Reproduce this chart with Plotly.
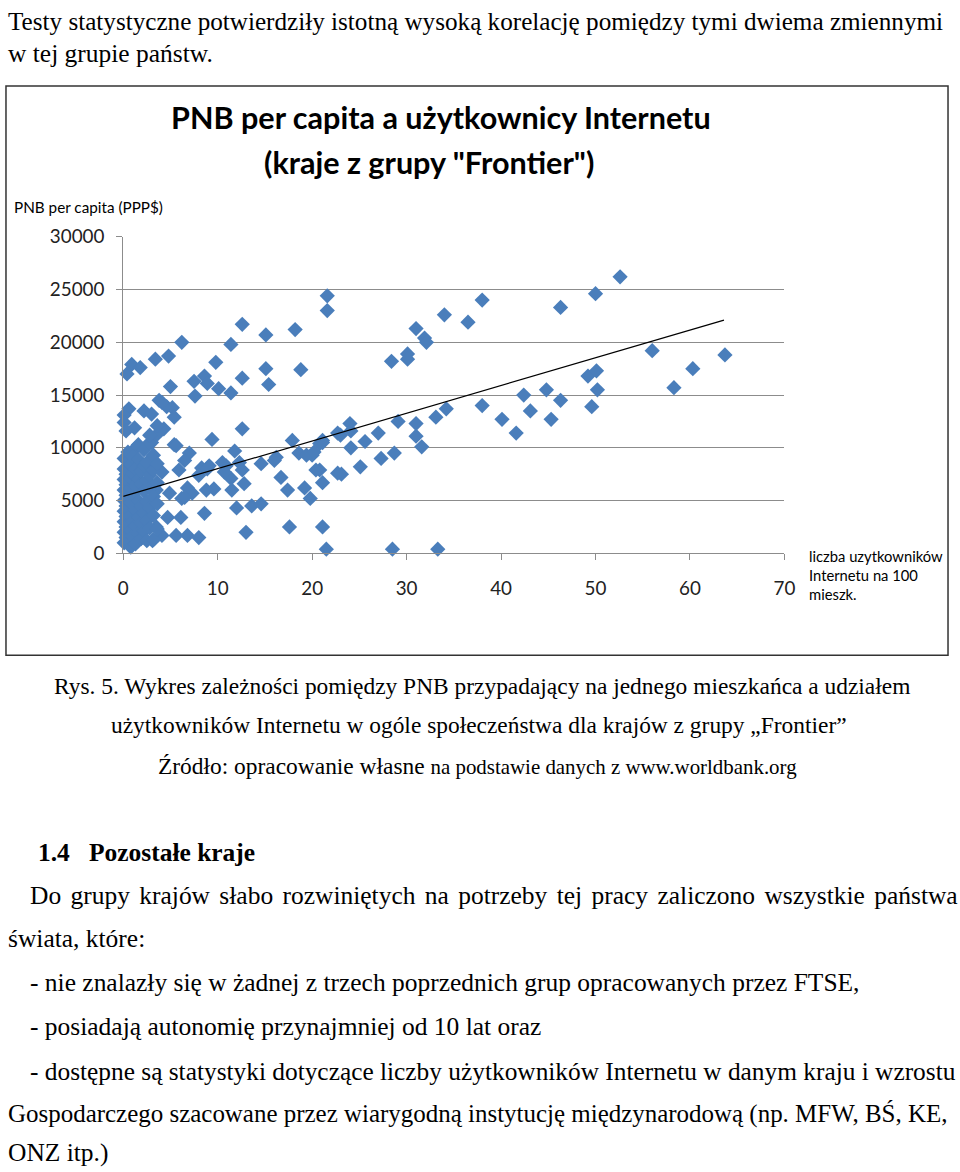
import plotly.graph_objects as go

# ---- data ----
internet_users = [
    52.6, 50.0, 46.3, 38.0, 36.5, 34.0, 31.0, 31.9, 32.1, 28.4, 30.1, 30.1, 21.6, 21.6,
    56.0, 60.3, 63.7, 58.3, 44.8, 46.3, 49.2, 50.1, 50.2, 49.6, 45.3,
    42.4, 38.0, 40.1, 41.6, 43.1, 34.2, 33.1, 31.0, 31.0, 31.6, 29.1, 28.7, 27.3, 27.0,
    25.6, 25.1, 24.0, 24.1, 24.1, 23.0, 23.1, 21.1, 20.8, 21.1, 21.1, 21.5, 28.5, 33.3,
    22.7, 22.7,
    12.6, 15.1, 18.2, 6.2, 11.4, 0.4, 0.9, 1.8, 3.4, 4.8, 9.8, 15.1, 15.4, 18.8, 12.6,
    5.0, 7.5, 8.6, 8.9, 10.1, 11.4, 7.6, 3.8,
    4.6, 5.2, 0.6, 2.2, 3.0, 0.1, 0.1, 5.4, 1.2, 0.3, 4.3, 3.5, 9.4, 3.0, 5.4, 1.2,
    4.1, 12.6, 11.8, 12.8, 11.5, 10.5, 10.9, 12.3, 12.6, 11.4, 12.0, 13.6, 14.6, 13.0,
    14.6, 16.0, 16.7, 17.4, 17.9, 18.6, 19.2, 19.8, 20.4, 17.6, 20.0, 20.8, 16.2,
    5.6, 7.0, 8.3, 9.1, 10.7, 5.9, 4.1, 9.6, 8.8, 7.3, 6.2, 4.9, 3.5, 4.7, 6.1, 8.6,
    5.6, 6.8, 8.0, 4.1, 3.1, 1.9, 3.5, 6.5, 6.8, 6.5, 8.9, 8.0,
    19.4, 20.2, 21.1,
    0.1, 0.1, 0.1, 0.1, 0.1, 0.1, 0.1, 0.1, 0.1,
    0.3, 0.3, 0.3, 0.3, 0.3, 0.3, 0.3,
    0.5, 0.5, 0.5, 0.5, 0.5, 0.5, 0.5, 0.5,
    0.8, 0.8, 0.8, 0.8, 0.8, 0.8, 0.8,
    1.0, 1.0, 1.0, 1.0, 1.0,
    1.3, 1.3, 1.3, 1.3, 1.3,
    1.6, 1.6, 1.6, 1.6, 1.6, 1.6,
    1.9, 1.9, 1.9, 1.9, 1.9,
    2.2, 2.2, 2.2, 2.2, 2.2,
    2.5, 2.5, 2.5, 2.5, 2.5,
    2.8, 2.8, 2.8, 2.8, 2.8, 2.8,
    3.2, 3.2, 3.2, 3.2, 3.2,
    3.6, 3.6, 3.6, 3.6, 3.6,
]
gnp_per_capita = [
    26200, 24600, 23300, 24000, 21900, 22600, 21300, 20400, 20000, 18200, 18900, 18400, 24400, 23000,
    19200, 17500, 18800, 15700, 15500, 14500, 16800, 17300, 15500, 13900, 12700,
    15000, 14000, 12700, 11400, 13500, 13700, 12900, 12300, 11100, 10100, 12500, 9500, 9000, 11400,
    10600, 8200, 12300, 11600, 10000, 11200, 7500, 10700, 7900, 6700, 2500, 400, 400, 400,
    11400, 7600,
    21700, 20700, 21200, 20000, 19800, 17000, 17900, 17600, 18400, 18700, 18100, 17500, 16000, 17400, 16600,
    15800, 16300, 16800, 16100, 15600, 15200, 14900, 14500,
    13900, 13800, 13700, 13500, 13200, 13100, 12400, 12900, 11900, 11600, 11800, 11200, 10800, 10500, 10300, 9900,
    14300, 11800, 9700, 6600, 6000, 8600, 8300, 8600, 7900, 7100, 4300, 4500, 4700, 2000,
    8500, 8800, 7200, 6000, 10700, 9500, 6200, 5200, 7900, 2500, 9300, 10400, 9100,
    10200, 9500, 8100, 8300, 7700, 7900, 7700, 6100, 6000, 5700, 5200, 5700, 6000, 3400, 3400, 3800,
    1700, 1700, 1500, 1700, 1200, 1900, 2500, 8800, 6200, 5300, 8000, 7400,
    9300, 9600, 10500,
    1000, 2000, 3000, 4000, 5000, 6000, 7000, 8000, 9000,
    1500, 2500, 3500, 4500, 5500, 6500, 7500,
    1200, 2800, 4200, 5300, 6800, 7800, 8700, 9600,
    600, 2200, 3600, 4800, 6200, 7200, 8400,
    1600, 3000, 5600, 7600, 9200,
    900, 2600, 4100, 6400, 8000,
    1900, 3400, 5000, 7000, 8900, 10300,
    1400, 2900, 4500, 6600, 7800,
    2100, 3800, 5900, 8300, 9800,
    1200, 3100, 4900, 6900, 8600,
    2400, 4300, 6200, 7400, 10500, 11200,
    1300, 3600, 5400, 7900, 9300,
    2300, 4700, 6700, 8500, 12100,
]
trend_x = [0.0, 63.6]
trend_y = [5400, 22100]
x_ticks = [0, 10, 20, 30, 40, 50, 60, 70]
y_ticks = [0, 5000, 10000, 15000, 20000, 25000, 30000]

W, H = 960, 1172
# the rendered page shows up slightly shrunk and padded; map target pixel
# positions into figure pixels
OX, OY, S = 7.0, 11.0, 0.9815

def dx(x):
    return min(max((x - OX) / S, 1.0), W - 1.0)
def dy(y):
    return min(max((y - OY) / S, 1.0), H - 1.0)
def px(x):
    return dx(x) / W
def py(y):
    return 1 - dy(y) / H
def fs(size):
    return size / S

fig = go.Figure()
fig.add_trace(go.Scatter(
    x=internet_users, y=gnp_per_capita, mode="markers",
    marker=dict(symbol="diamond", size=fs(11.5), color="#4A7EBB", line=dict(width=0)),
    cliponaxis=False, showlegend=False, hoverinfo="x+y"))
fig.add_trace(go.Scatter(
    x=trend_x, y=trend_y, mode="lines",
    line=dict(color="#000000", width=1.2), showlegend=False, hoverinfo="skip"))

SANS = "Lato"
SERIF = "Liberation Serif"

fig.update_layout(
    width=W, height=H, margin=dict(l=0, r=0, t=0, b=0),
    paper_bgcolor="white", plot_bgcolor="white",
    xaxis=dict(domain=[px(125), px(785)], range=[0, 70], tickvals=x_ticks,
               showgrid=False, zeroline=False, showline=True, linecolor="#8c8c8c", linewidth=1,
               ticks="outside", ticklen=6, tickcolor="#8c8c8c", ticklabelstandoff=12,
               tickfont=dict(family=SANS, size=fs(18.5), color="#222")),
    yaxis=dict(domain=[py(553), py(236)], range=[0, 30000], tickvals=y_ticks, tickformat="d",
               showgrid=True, gridcolor="#8c8c8c", gridwidth=1, zeroline=False,
               showline=True, linecolor="#8c8c8c", linewidth=1,
               ticks="outside", ticklen=6, tickcolor="#8c8c8c", ticklabelstandoff=8,
               tickfont=dict(family=SANS, size=fs(18.5), color="#222")),
)

# chart frame
fig.add_shape(type="rect", xref="paper", yref="paper",
              x0=px(3), x1=px(957), y0=py(655), y1=py(85),
              line=dict(color="#333", width=1.5), fillcolor="rgba(0,0,0,0)", layer="below")

def ann(text, x, y, size, family, xanchor="left", bold=False, color="#000"):
    if bold:
        text = "<b>" + text + "</b>"
    fig.add_annotation(text=text, x=px(x), y=py(y), xref="paper", yref="paper",
                       xanchor=xanchor, yanchor="middle", showarrow=False,
                       font=dict(family=family, size=fs(size), color=color))

# chart texts
ann("PNB per capita a użytkownicy Internetu", 442, 117, 30, SANS, "center", bold=True)
ann("(kraje z grupy \"Frontier\")", 430, 162, 30, SANS, "center", bold=True)
ann("PNB per capita (PPP$)", 14, 206, 15, SANS)
ann("liczba uzytkowników", 808, 556, 14.5, SANS)
ann("Internetu na 100", 808, 575, 14.5, SANS)
ann("mieszk.", 808, 594, 14.5, SANS)

# document texts
BODY = 25
ann("Testy statystyczne potwierdziły istotną wysoką korelację pomiędzy tymi dwiema zmiennymi", 0, 21, 24.7, SERIF)
ann("w tej grupie państw.", 0, 53, BODY, SERIF)
ann("Rys. 5. Wykres zależności pomiędzy PNB przypadający na jednego mieszkańca a udziałem", 483, 686, 23, SERIF, "center")
ann("użytkowników Internetu w ogóle społeczeństwa dla krajów z grupy „Frontier”", 480, 725, 23, SERIF, "center")
ann("Źródło: opracowanie własne <span style='font-size:%.1fpx'>na podstawie danych z www.worldbank.org</span>" % fs(20.5),
    479, 766, 23, SERIF, "center")
ann("1.4   Pozostałe kraje", 38, 852, BODY, SERIF, bold=True)
ann("<span style='word-spacing:3px'>Do grupy krajów słabo rozwiniętych na potrzeby tej pracy zaliczono wszystkie państwa</span>",
    30, 896, BODY, SERIF)
ann("świata, które:", 0, 939, BODY, SERIF)
ann("- nie znalazły się w żadnej z trzech poprzednich grup opracowanych przez FTSE,", 30, 983, BODY, SERIF)
ann("- posiadają autonomię przynajmniej od 10 lat oraz", 30, 1027, BODY, SERIF)
ann("- dostępne są statystyki dotyczące liczby użytkowników Internetu w danym kraju i wzrostu", 30, 1071, 24.9, SERIF)
ann("Gospodarczego szacowane przez wiarygodną instytucję międzynarodową (np. MFW, BŚ, KE,", 0, 1114, 24.5, SERIF)
ann("ONZ itp.)", 0, 1153, BODY, SERIF)

fig.write_html("out.html", config={"displayModeBar": False},
               post_script="document.body.style.margin='0';document.body.style.overflow='hidden';")
